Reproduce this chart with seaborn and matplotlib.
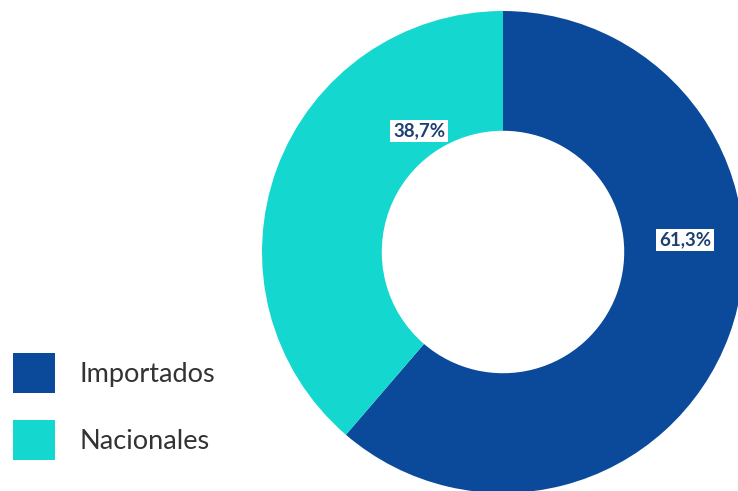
import matplotlib
matplotlib.use("Agg")
import matplotlib.pyplot as plt
import seaborn as sns

categories = ["Importados", "Nacionales"]
values = [61.3, 38.7]
colors = ["#0B4A9B", "#14D8D0"]

sns.set_theme(style="white")
plt.rcParams['font.family'] = ['Lato', 'DejaVu Sans']

W, H = 738, 491
fig = plt.figure(figsize=(W / 100, H / 100), dpi=100)
fig.patch.set_facecolor("white")

cx, cy, r = 503, 252, 241
ax = fig.add_axes([(cx - r) / W, (H - cy - r) / H, 2 * r / W, 2 * r / H])
wedges, _ = ax.pie(values, colors=colors, startangle=90, counterclock=False,
                   radius=1.0, wedgeprops=dict(width=0.497, linewidth=0))
ax.set_xlim(-1, 1)
ax.set_ylim(-1, 1)
ax.set_aspect("equal")
ax.axis("off")

label_pos = {"Importados": (0.755, 0.05), "Nacionales": (-0.348, 0.502)}
for cat, val in zip(categories, values):
    x, y = label_pos[cat]
    ax.text(x, y, f"{val:.1f}%".replace(".", ","), ha="center", va="center",
            fontsize=13.5, fontweight="bold", color="#1E3F74",
            bbox=dict(boxstyle="square,pad=0.15", facecolor="white", edgecolor="none"))

fs = 19.5
leg = fig.legend(wedges, categories, loc="upper left",
                 bbox_to_anchor=(13 / W, (H - 353) / H), frameon=False,
                 fontsize=fs, handlelength=1.55, handleheight=1.895,
                 handletextpad=0.92, labelspacing=1.0, borderpad=0, borderaxespad=0)
for t in leg.get_texts():
    t.set_color("#333333")

fig.savefig("out.png", dpi=100, facecolor="white")
